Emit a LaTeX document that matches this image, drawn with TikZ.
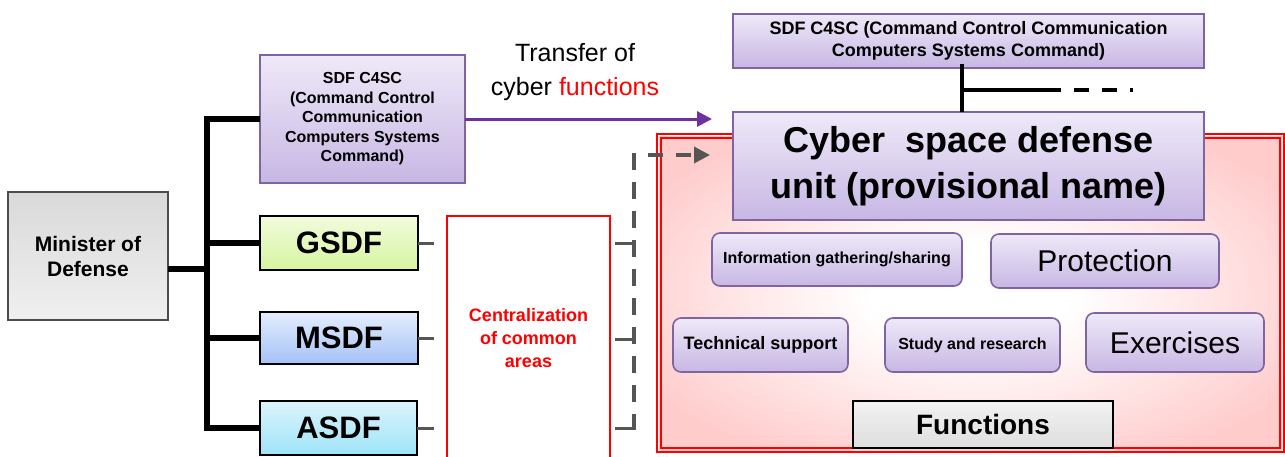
\documentclass[tikz,border=0pt]{standalone}
\usepackage{fontspec}
\setmainfont{Liberation Sans}
\usetikzlibrary{arrows.meta}

\definecolor{boxpurple}{RGB}{128,100,162}
\definecolor{lavtop}{RGB}{238,233,248}
\definecolor{lavbot}{RGB}{199,183,228}
\definecolor{arrowpurple}{RGB}{112,48,160}
\definecolor{dashgray}{RGB}{85,85,85}
\definecolor{pinkbg}{RGB}{255,204,204}
\definecolor{greentop}{RGB}{242,251,220}
\definecolor{greenbot}{RGB}{214,245,160}
\definecolor{bluetop}{RGB}{228,237,253}
\definecolor{bluebot}{RGB}{164,194,247}
\definecolor{cyantop}{RGB}{220,244,252}
\definecolor{cyanbot}{RGB}{158,228,248}

\pgfdeclareradialshading{pinkglow}{\pgfpoint{0bp}{0bp}}{color(0bp)=(white); color(8bp)=(white); color(30bp)=(pinkbg); color(50bp)=(pinkbg)}

\tikzstyle{pixfig}=[x=1pt,y=-1pt]
\tikzstyle{plainbox}=[draw=black, line width=1.8pt, inner sep=0pt, outer sep=0pt, align=center]
\tikzstyle{purplebox}=[draw=boxpurple, line width=1.6pt, top color=lavtop, bottom color=lavbot, inner sep=0pt, outer sep=0pt, align=center]
\tikzstyle{funcbox}=[purplebox, rounded corners=8pt]
\tikzstyle{trunk}=[line width=5.5pt, black]
\tikzstyle{stub}=[line width=3pt, dashgray]
\tikzstyle{graydash}=[line width=3.5pt, dashgray, dash pattern=on 17pt off 12pt]

\begin{document}
\begin{tikzpicture}[style=pixfig]
\useasboundingbox (0,0) rectangle (1285,456);

\shade[shading=pinkglow] (659,136) rectangle (1282,450);
\draw[red, line width=1.5pt] (657,134) rectangle (1284,452);
\draw[red, line width=1.2pt] (661,138) rectangle (1280,448);

\node[plainbox, draw=black!70, line width=1.4pt, top color=black!15, bottom color=black!6, minimum width=160, minimum height=128, font=\fontsize{21}{25}\selectfont\bfseries] (minister) at (88,256) {Minister of\\Defense};

\node[purplebox, minimum width=205, minimum height=128, font=\fontsize{16}{19.5}\selectfont\bfseries] (c4left) at (362.5,119) {SDF C4SC\\(Command Control\\Communication\\Computers Systems\\Command)};

\node[plainbox, top color=greentop, bottom color=greenbot, minimum width=158, minimum height=54, font=\fontsize{31}{36}\selectfont\bfseries] (gsdf) at (339,243) {GSDF};
\node[plainbox, top color=bluetop, bottom color=bluebot, minimum width=158, minimum height=52, font=\fontsize{31}{36}\selectfont\bfseries] (msdf) at (339,338) {MSDF};
\node[plainbox, top color=cyantop, bottom color=cyanbot, minimum width=157, minimum height=54, font=\fontsize{31}{36}\selectfont\bfseries] (asdf) at (338.5,428) {ASDF};

\coordinate (tjoin) at (207,269);
\coordinate (ttop) at (207,119);
\coordinate (tbot) at (207,428);
\draw[trunk] (minister.east |- tjoin) -- (tjoin);
\draw[trunk] ([yshift=2.75pt]ttop) -- ([yshift=-2.75pt]tbot);
\draw[trunk] (ttop) -- (c4left.west);
\draw[trunk] (gsdf.west -| tjoin) -- (gsdf.west);
\draw[trunk] (msdf.west -| tjoin) -- (msdf.west);
\draw[trunk] (asdf.west -| tjoin) -- (asdf.west);

\node[draw=red, line width=1.8pt, fill=white, minimum width=163, minimum height=244, inner sep=0pt, align=center, text=red, font=\fontsize{18}{23}\selectfont\bfseries] (central) at (528.5,338) {Centralization\\of common\\areas};

\draw[stub] (gsdf.east) -- (434,243);
\draw[stub] (msdf.east) -- (434,338);
\draw[stub] (asdf.east) -- (434,428);

\coordinate (dtop) at (634,153);
\coordinate (dbot) at (634,430);
\coordinate (dstart) at (648,155);
\coordinate (dtip) at (710,155);
\draw[stub] (615,243) -- (dtop |- 0,243);
\draw[stub] (615,339) -- (dtop |- 0,339);
\draw[stub] (615,428) -- (dtop |- 0,428);
\draw[graydash] (dtop) -- (dbot);
\draw[graydash, dash pattern=on 15pt off 13pt, -{Triangle[length=16pt,width=16pt]}] (dstart) -- (dtip);

\coordinate (ptip) at (712,119);
\draw[line width=3pt, arrowpurple, -{Triangle[length=15pt,width=15pt]}] (c4left.east) -- (ptip);
\node[align=center, font=\fontsize{25}{34}\selectfont] (transfer) at (575,72) {Transfer of\\cyber \textcolor{red}{functions}};

\node[purplebox, minimum width=471, minimum height=54, font=\fontsize{18}{22.6}\selectfont\bfseries] (topc4) at (968.5,41) {SDF C4SC (Command Control Communication\\Computers Systems Command)};
\node[purplebox, minimum width=471, minimum height=108, font=\fontsize{36}{46}\selectfont\bfseries] (cyber) at (968.5,166) {Cyber~ space defense\\unit (provisional name)};

\coordinate (vjoin) at (962,90);
\coordinate (hsolid) at (1048,90);
\coordinate (hend) at (1133,90);
\draw[line width=4.5pt, black] ([yshift=4pt]topc4.south -| vjoin) -- (cyber.north -| vjoin);
\draw[line width=3.5pt, black] (vjoin) -- (hsolid);
\draw[line width=3.5pt, black, dash pattern=on 15pt off 13pt] ([xshift=-2pt]hsolid) -- (hend);

\node[funcbox, minimum width=250, minimum height=53, font=\fontsize{16}{19}\selectfont\bfseries] (info) at (837,259.5) {Information gathering/sharing};
\node[funcbox, minimum width=228, minimum height=54, font=\fontsize{30}{36}\selectfont] (protect) at (1105,261) {Protection};
\node[funcbox, minimum width=175, minimum height=54, font=\fontsize{18}{22}\selectfont\bfseries] (techsup) at (760.5,345) {Technical support};
\node[funcbox, minimum width=175, minimum height=54, font=\fontsize{16}{19}\selectfont\bfseries] (study) at (972.5,345) {Study and research};
\node[funcbox, minimum width=178, minimum height=59, font=\fontsize{30}{36}\selectfont] (exercise) at (1175,342.5) {Exercises};

\node[plainbox, top color=black!5, bottom color=black!13, minimum width=260, minimum height=47, font=\fontsize{28}{34}\selectfont\bfseries] (functions) at (983,424.5) {Functions};
\end{tikzpicture}
\end{document}
